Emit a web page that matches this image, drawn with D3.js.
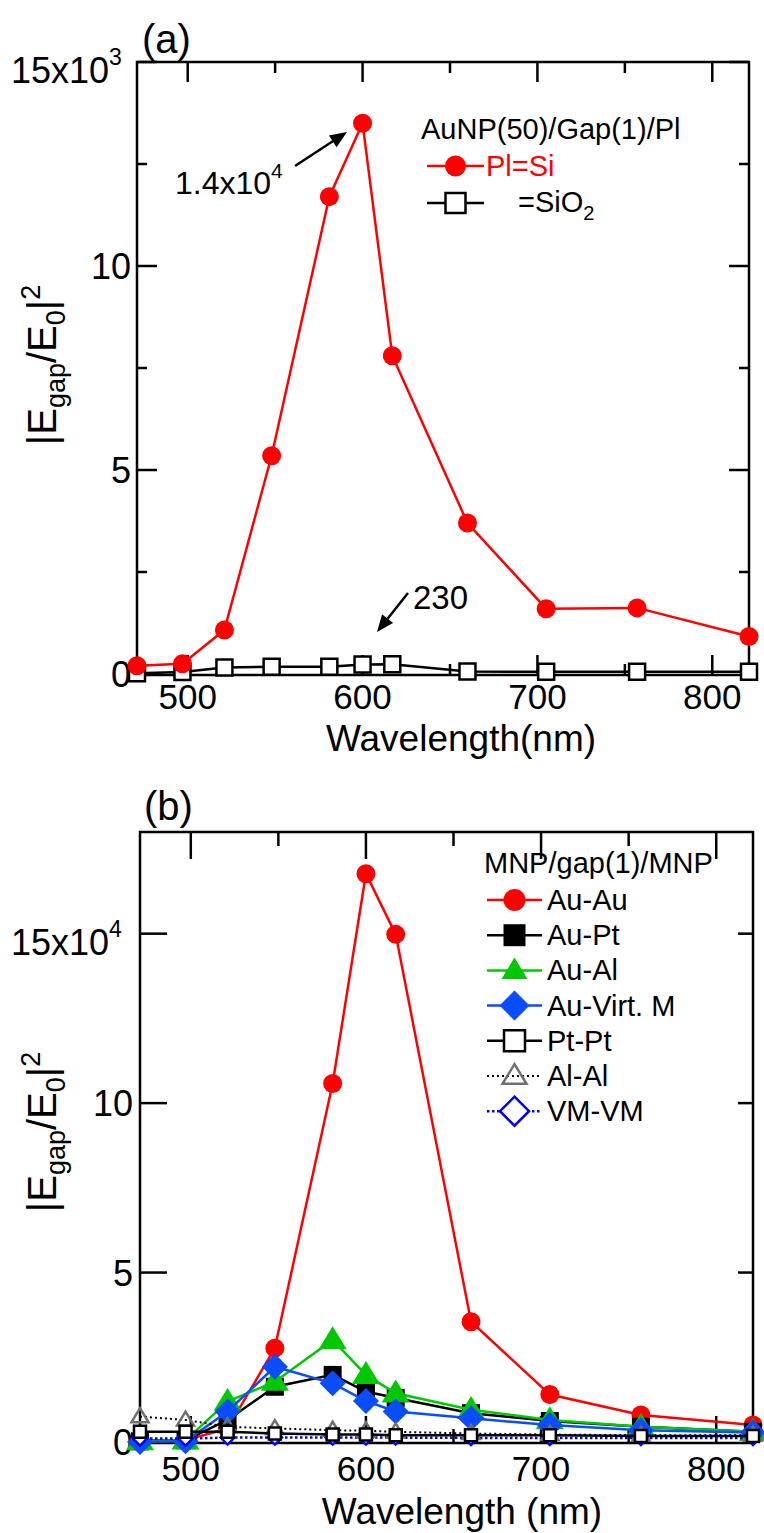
<!DOCTYPE html>
<html><head><meta charset="utf-8">
<script src="https://cdn.jsdelivr.net/npm/d3@7"></script>
<style>body{margin:0;background:#fff}svg{display:block}text{font-family:"Liberation Sans",Arial,sans-serif}</style>
</head><body>
<script>
// ---------- data ----------
const wavelengths = [471, 497, 521, 548, 581, 600, 617, 660, 705, 757, 821];
// panel (a)
const plSi  = [200, 250, 1080, 5350, 11700, 13500, 7800, 3700, 1600, 1620, 920];
const sio2  = [20, 50, 160, 180, 180, 230, 240, 60, 55, 55, 55];
// panel (b), values in units of 1e4
const auAu = [0.05, 0.05, 0.4, 2.77, 10.58, 16.77, 14.98, 3.55, 1.4, 0.8, 0.5];
const auPt = [0.02, 0.05, 0.65, 1.63, 1.98, 1.49, 1.3, 0.85, 0.62, 0.45, 0.3];
const auAl = [0.03, 0.05, 1.19, 1.78, 3.01, 1.98, 1.44, 0.95, 0.65, 0.45, 0.3];
const auVM = [0.0, 0.02, 0.9, 2.22, 1.73, 1.21, 0.9, 0.7, 0.5, 0.35, 0.28];
const ptPt = [0.3, 0.3, 0.3, 0.25, 0.22, 0.22, 0.2, 0.2, 0.2, 0.18, 0.18];
const alAl = [0.75, 0.65, 0.45, 0.4, 0.35, 0.33, 0.3, 0.25, 0.22, 0.2, 0.2];
const vmVm = [0.1, 0.1, 0.13, 0.13, 0.13, 0.13, 0.13, 0.12, 0.12, 0.12, 0.12];
const xTicksMajor = [500, 600, 700, 800];
const xTicksMinor = [550, 650, 750];
const yTicksA = [0, 2500, 5000, 7500, 10000, 12500, 15000];
const yTicksB = [0, 50000, 100000, 150000];

const W = 764, H = 1533;
const svg = d3.select("body").append("svg").attr("width", W).attr("height", H);

function diamondPath(d) {
  const r = d / 2;
  return `M0,${-r}L${r},0L0,${r}L${-r},0Z`;
}
function triPath(w, h) {
  return `M0,${-h*0.6}L${w/2},${h*0.4}L${-w/2},${h*0.4}Z`;
}
function markerPath(type, s) {
  if (type === "circle") return d3.symbol(d3.symbolCircle, Math.PI * s * s / 4)();
  if (type === "square") return d3.symbol(d3.symbolSquare, s * s)();
  if (type === "triangle") return triPath(s, s * 0.82);
  if (type === "diamond") return diamondPath(s);
}

function frame(g, x, y, o) {
  const [x0, x1] = x.range(), [y0, y1] = y.range();
  const fb = y0 + o.frameDrop;
  g.append("rect").attr("x", x0).attr("y", y1).attr("width", x1 - x0).attr("height", fb - y1)
    .attr("fill", "none").attr("stroke", "#000").attr("stroke-width", 2.5);
  const tk = g.append("g").attr("stroke", "#000").attr("stroke-width", 2.5);
  xTicksMajor.concat(xTicksMinor).forEach(v => {
    const L = xTicksMajor.includes(v) ? o.xMaj : o.xMin;
    tk.append("line").attr("x1", x(v)).attr("x2", x(v)).attr("y1", y1).attr("y2", y1 + L);
    tk.append("line").attr("x1", x(v)).attr("x2", x(v)).attr("y1", fb).attr("y2", fb - L);
  });
  o.yTicks.forEach(v => {
    const maj = o.yMajor(v);
    const Ll = maj ? o.yMajL : o.yMinL, Lr = maj ? o.yMajR : o.yMinR;
    if (v !== 0) {
      tk.append("line").attr("x1", x0).attr("x2", x0 + Ll).attr("y1", y(v)).attr("y2", y(v));
      tk.append("line").attr("x1", x1).attr("x2", x1 - Lr).attr("y1", y(v)).attr("y2", y(v));
    }
  });
  xTicksMajor.forEach(v => {
    g.append("text").attr("x", x(v)).attr("y", o.xLabY).attr("text-anchor", "middle")
      .attr("font-size", 35).text(v);
  });
  g.append("text").attr("x", o.xTitleX).attr("y", o.xTitleY).attr("text-anchor", "middle")
    .attr("font-size", 37).text(o.xTitle);
}

function yTitle(g, cx, cy) {
  const t = g.append("text").attr("transform", `translate(${cx},${cy}) rotate(-90)`)
    .attr("text-anchor", "middle").attr("font-size", 40);
  t.append("tspan").text("|E");
  t.append("tspan").attr("font-size", 27).attr("dy", 9).text("gap");
  t.append("tspan").attr("dy", -9).text("/E");
  t.append("tspan").attr("font-size", 27).attr("dy", 9).text("0");
  t.append("tspan").attr("dy", -9).text("|");
  t.append("tspan").attr("font-size", 27).attr("dy", -16).text("2");
}

function series(g, x, y, vals, st) {
  const pts = wavelengths.map((w, i) => [x(w), y(vals[i])]);
  g.append("path").attr("d", d3.line()(pts)).attr("fill", "none")
    .attr("stroke", st.line).attr("stroke-width", st.lw || 2.5)
    .attr("stroke-dasharray", st.dash || null);
  g.selectAll(null).data(pts).enter().append("path")
    .attr("transform", d => `translate(${d[0]},${d[1]})`)
    .attr("d", markerPath(st.shape, st.size))
    .attr("fill", st.fill).attr("stroke", st.stroke || "none").attr("stroke-width", st.sw || 0);
}

function legendRow(g, x0, x1, cy, st, lsize) {
  g.append("line").attr("x1", x0).attr("x2", x1).attr("y1", cy).attr("y2", cy)
    .attr("stroke", st.line).attr("stroke-width", st.lw || 2.5).attr("stroke-dasharray", st.dash || null);
  g.append("path").attr("transform", `translate(${(x0 + x1) / 2},${cy})`)
    .attr("d", markerPath(st.shape, lsize)).attr("fill", st.fill)
    .attr("stroke", st.stroke || "none").attr("stroke-width", st.sw || 0);
}

function arrow(g, xs, ys, xe, ye) {
  const a = Math.atan2(ye - ys, xe - xs), L = 17, Wd = 7;
  const bx = xe - L * Math.cos(a), by = ye - L * Math.sin(a);
  g.append("line").attr("x1", xs).attr("y1", ys).attr("x2", bx).attr("y2", by)
    .attr("stroke", "#000").attr("stroke-width", 2.5);
  const p = d3.path();
  p.moveTo(xe, ye);
  p.lineTo(bx + Wd * Math.sin(a), by - Wd * Math.cos(a));
  p.lineTo(bx - Wd * Math.sin(a), by + Wd * Math.cos(a));
  p.closePath();
  g.append("path").attr("d", p.toString()).attr("fill", "#000");
}

// ================= Panel (a) =================
{
  const g = svg.append("g");
  const x = d3.scaleLinear().domain([471, 821]).range([137, 749]);
  const y = d3.scaleLinear().domain([0, 15000]).range([674, 62]);
  frame(g, x, y, {
    frameDrop: 1, xMaj: 20, xMin: 11, yMajL: 20, yMinL: 10, yMajR: 20, yMinR: 10,
    yTicks: yTicksA, yMajor: v => v % 5000 === 0,
    xLabY: 709, xTitle: "Wavelength(nm)", xTitleX: 461, xTitleY: 751
  });
  [[0, "0"], [5000, "5"], [10000, "10"]].forEach(([v, s]) => {
    g.append("text").attr("x", 131).attr("y", y(v) + 13).attr("text-anchor", "end")
      .attr("font-size", 36).text(s);
  });
  const top = g.append("text").attr("x", 11).attr("y", y(15000) + 21).attr("font-size", 36);
  top.append("tspan").text("15x10");
  top.append("tspan").attr("font-size", 23).attr("dy", -18).text("3");
  yTitle(g, 56, 365);
  g.append("text").attr("x", 142).attr("y", 53).attr("font-size", 40).text("(a)");

  series(g, x, y, sio2, {line: "#000", shape: "square", size: 16, fill: "#fff", stroke: "#000", sw: 2.5});
  series(g, x, y, plSi, {line: "#ff0000", shape: "circle", size: 19, fill: "#ff0000"});

  const t1 = g.append("text").attr("x", 175).attr("y", 194).attr("font-size", 32);
  t1.append("tspan").text("1.4x10");
  t1.append("tspan").attr("font-size", 21).attr("dy", -16).text("4");
  arrow(g, 295, 166, 347, 132);
  g.append("text").attr("x", 413).attr("y", 609).attr("font-size", 33).text("230");
  arrow(g, 408, 593, 377, 632);

  g.append("text").attr("x", 421).attr("y", 139).attr("font-size", 29).text("AuNP(50)/Gap(1)/Pl");
  legendRow(g, 427, 484, 166, {line: "#ff0000", shape: "circle", fill: "#ff0000"}, 21);
  g.append("text").attr("x", 486).attr("y", 176).attr("font-size", 29).attr("fill", "#ff0000").text("Pl=Si");
  legendRow(g, 427, 484, 203, {line: "#000", shape: "square", fill: "#fff", stroke: "#000", sw: 2.5}, 20);
  const t2 = g.append("text").attr("x", 518).attr("y", 212).attr("font-size", 29);
  t2.append("tspan").text("=SiO");
  t2.append("tspan").attr("font-size", 20).attr("dy", 8).text("2");
}

// ================= Panel (b) =================
{
  const g = svg.append("g");
  const x = d3.scaleLinear().domain([471, 821]).range([140, 753]);
  const y = d3.scaleLinear().domain([0, 180000]).range([1442, 832]);
  frame(g, x, y, {
    frameDrop: 1, xMaj: 27, xMin: 14, yMajL: 27, yMinL: 14, yMajR: 15, yMinR: 8,
    yTicks: yTicksB, yMajor: v => true,
    xLabY: 1481, xTitle: "Wavelength (nm)", xTitleX: 462, xTitleY: 1524
  });
  [[0, "0"], [50000, "5"], [100000, "10"]].forEach(([v, s]) => {
    g.append("text").attr("x", 133).attr("y", y(v) + 13).attr("text-anchor", "end")
      .attr("font-size", 36).text(s);
  });
  const top = g.append("text").attr("x", 11).attr("y", y(150000) + 21).attr("font-size", 36);
  top.append("tspan").text("15x10");
  top.append("tspan").attr("font-size", 23).attr("dy", -18).text("4");
  yTitle(g, 56, 1132);
  g.append("text").attr("x", 144).attr("y", 820).attr("font-size", 40).text("(b)");

  const sc = a => a.map(v => v * 1e4);
  const styles = [
    {name: "Au-Au", vals: auAu, st: {line: "#ff0000", shape: "circle", size: 19, fill: "#ff0000"}, ls: 22},
    {name: "Au-Pt", vals: auPt, st: {line: "#000", shape: "square", size: 18, fill: "#000"}, ls: 22},
    {name: "Au-Al", vals: auAl, st: {line: "#00c800", shape: "triangle", size: 28, fill: "#00c800"}, ls: 26},
    {name: "Au-Virt. M", vals: auVM, st: {line: "#0a4cff", shape: "diamond", size: 26, fill: "#0a4cff"}, ls: 30},
    {name: "Pt-Pt", vals: ptPt, st: {line: "#000", shape: "square", size: 12, fill: "#fff", stroke: "#000", sw: 2.5}, ls: 21},
    {name: "Al-Al", vals: alAl, st: {line: "#000", lw: 2, dash: "2,3", shape: "triangle", size: 17, fill: "none", stroke: "#707070", sw: 2.5}, ls: 24},
    {name: "VM-VM", vals: vmVm, st: {line: "#0000ff", lw: 2.5, dash: "2.5,2.5", shape: "diamond", size: 14, fill: "#fff", stroke: "#0000ff", sw: 2.5}, ls: 29}
  ];
  const drawOrder = [0, 1, 2, 3, 6, 5, 4];
  drawOrder.forEach(i => series(g, x, y, sc(styles[i].vals), styles[i].st));

  g.append("text").attr("x", 484).attr("y", 873).attr("font-size", 29).text("MNP/gap(1)/MNP");
  styles.forEach((s, i) => {
    const cy = 900 + i * 35.2;
    legendRow(g, 487, 542, cy, s.st, s.ls);
    g.append("text").attr("x", 547).attr("y", cy + 10).attr("font-size", 29).text(s.name);
  });
}
</script>
</body></html>
